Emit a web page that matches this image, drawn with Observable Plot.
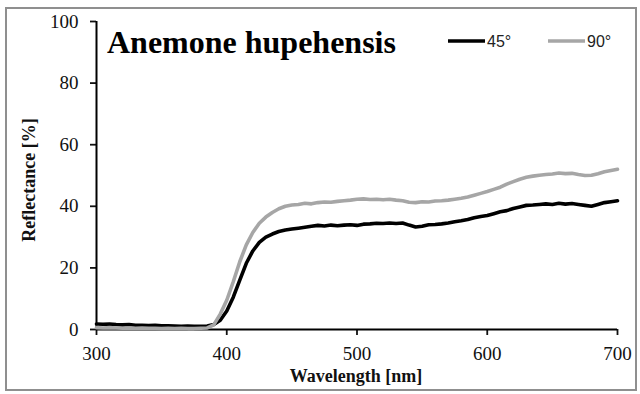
<!DOCTYPE html>
<html>
<head>
<meta charset="utf-8">
<script src="https://cdn.jsdelivr.net/npm/d3@7"></script>
<script src="https://cdn.jsdelivr.net/npm/@observablehq/plot@0.6"></script>
<style>
  html, body { margin: 0; padding: 0; background: #fff; }
  #chart { position: relative; width: 640px; height: 394px; overflow: hidden; background: #fff; }
  #frame { position: absolute; left: 5px; top: 7px; width: 632px; height: 384px; box-sizing: border-box; border: 2px solid #8f8f8f; pointer-events: none; }
  #chart svg { position: absolute; left: 0; top: 0; }
</style>
</head>
<body>
<div id="chart"><div id="frame"></div></div>
<script>
// Spectral reflectance of Anemone hupehensis petals at two viewing angles
const wavelength = [
  300,305,310,315,320,325,330,335,340,345,350,355,360,365,370,375,380,385,390,395,
  400,405,410,415,420,425,430,435,440,445,450,455,460,465,470,475,480,485,490,495,
  500,505,510,515,520,525,530,535,540,545,550,555,560,565,570,575,580,585,590,595,
  600,605,610,615,620,625,630,635,640,645,650,655,660,665,670,675,680,685,690,695,
  700
];
const refl45 = [
  1.8,1.7,1.8,1.6,1.5,1.6,1.4,1.4,1.3,1.4,1.2,1.2,1.1,1.0,1.1,1.0,1.0,1.1,1.6,3.0,
  6.0,10.5,16.0,21.5,25.5,28.3,30.0,31.0,31.8,32.3,32.6,32.9,33.2,33.5,33.8,33.6,33.9,33.7,33.9,34.0,
  33.8,34.2,34.3,34.5,34.4,34.6,34.4,34.6,33.9,33.3,33.5,34.0,34.1,34.3,34.6,35.0,35.3,35.7,36.3,36.7,
  37.0,37.6,38.2,38.6,39.3,39.8,40.3,40.4,40.6,40.8,40.6,41.0,40.7,40.9,40.6,40.3,40.0,40.6,41.2,41.5,
  41.8
];
const refl90 = [
  0.6,0.5,0.6,0.5,0.4,0.5,0.4,0.5,0.4,0.4,0.3,0.4,0.3,0.4,0.3,0.3,0.4,0.5,1.5,5.0,
  9.5,15.5,22.0,27.5,31.5,34.5,36.5,38.0,39.2,40.0,40.4,40.6,41.0,40.8,41.2,41.4,41.3,41.6,41.8,42.0,
  42.3,42.4,42.2,42.3,42.1,42.3,42.0,41.8,41.3,41.2,41.5,41.4,41.7,41.8,42.0,42.3,42.6,43.0,43.6,44.2,
  44.8,45.5,46.2,47.2,48.0,48.8,49.4,49.8,50.1,50.3,50.5,50.8,50.6,50.7,50.3,50.0,50.1,50.6,51.2,51.6,
  52.0
];
const xTicks = [300, 400, 500, 600, 700];
const yTicks = [0, 20, 40, 60, 80, 100];
const seriesNames = ["45°", "90°"];
const seriesColors = ["#000000", "#a6a6a6"];

const rows = [];
wavelength.forEach((w, i) => {
  rows.push({wavelength: w, reflectance: refl45[i], angle: seriesNames[0]});
  rows.push({wavelength: w, reflectance: refl90[i], angle: seriesNames[1]});
});

const serif = "'Liberation Serif', 'Times New Roman', serif";

const plot = Plot.plot({
  width: 640,
  height: 394,
  marginLeft: 96,
  marginRight: 23,
  marginTop: 21,
  marginBottom: 65,
  style: {fontFamily: serif, fontSize: "19px", background: "transparent", color: "#111"},
  x: {domain: [300, 700]},
  y: {domain: [0, 100]},
  color: {domain: seriesNames, range: seriesColors},
  marks: [
    Plot.axisX({ticks: xTicks, tickFormat: d => String(d), tickSize: 6, tickPadding: 11, strokeWidth: 1.8, label: null}),
    Plot.axisY({ticks: yTicks, tickFormat: d => String(d), tickSize: 6, tickPadding: 12, strokeWidth: 1.8, label: null}),
    Plot.ruleY([0], {stroke: "#000", strokeWidth: 2}),
    Plot.ruleX([300], {stroke: "#000", strokeWidth: 2}),
    Plot.line(rows, {x: "wavelength", y: "reflectance", z: "angle", stroke: "angle", strokeWidth: 3.6, strokeLinejoin: "round"})
  ]
});
document.getElementById("chart").appendChild(plot);

// Title, legend and axis titles drawn on an overlay layer
const svgNS = "http://www.w3.org/2000/svg";
const overlay = d3.select("#chart").append("svg")
  .attr("width", 640).attr("height", 394)
  .attr("xmlns", svgNS);

overlay.append("text")
  .attr("x", 107).attr("y", 53)
  .attr("font-family", serif).attr("font-weight", "bold").attr("font-size", 32)
  .attr("fill", "#000")
  .text("Anemone hupehensis");

const legendX = [448, 548];
seriesNames.forEach((name, i) => {
  overlay.append("line")
    .attr("x1", legendX[i]).attr("x2", legendX[i] + 37)
    .attr("y1", 41).attr("y2", 41)
    .attr("stroke", seriesColors[i]).attr("stroke-width", 3.6);
  overlay.append("text")
    .attr("x", legendX[i] + 39).attr("y", 46.5)
    .attr("font-family", "'Liberation Sans', Arial, sans-serif").attr("font-size", 16)
    .attr("fill", "#222")
    .text(name);
});

overlay.append("text")
  .attr("x", 356).attr("y", 382)
  .attr("text-anchor", "middle")
  .attr("font-family", serif).attr("font-weight", "bold").attr("font-size", 18)
  .attr("fill", "#111")
  .text("Wavelength [nm]");

overlay.append("text")
  .attr("transform", "translate(35,180) rotate(-90)")
  .attr("text-anchor", "middle")
  .attr("font-family", serif).attr("font-weight", "bold").attr("font-size", 18)
  .attr("fill", "#111")
  .text("Reflectance [%]");
</script>
</body>
</html>
